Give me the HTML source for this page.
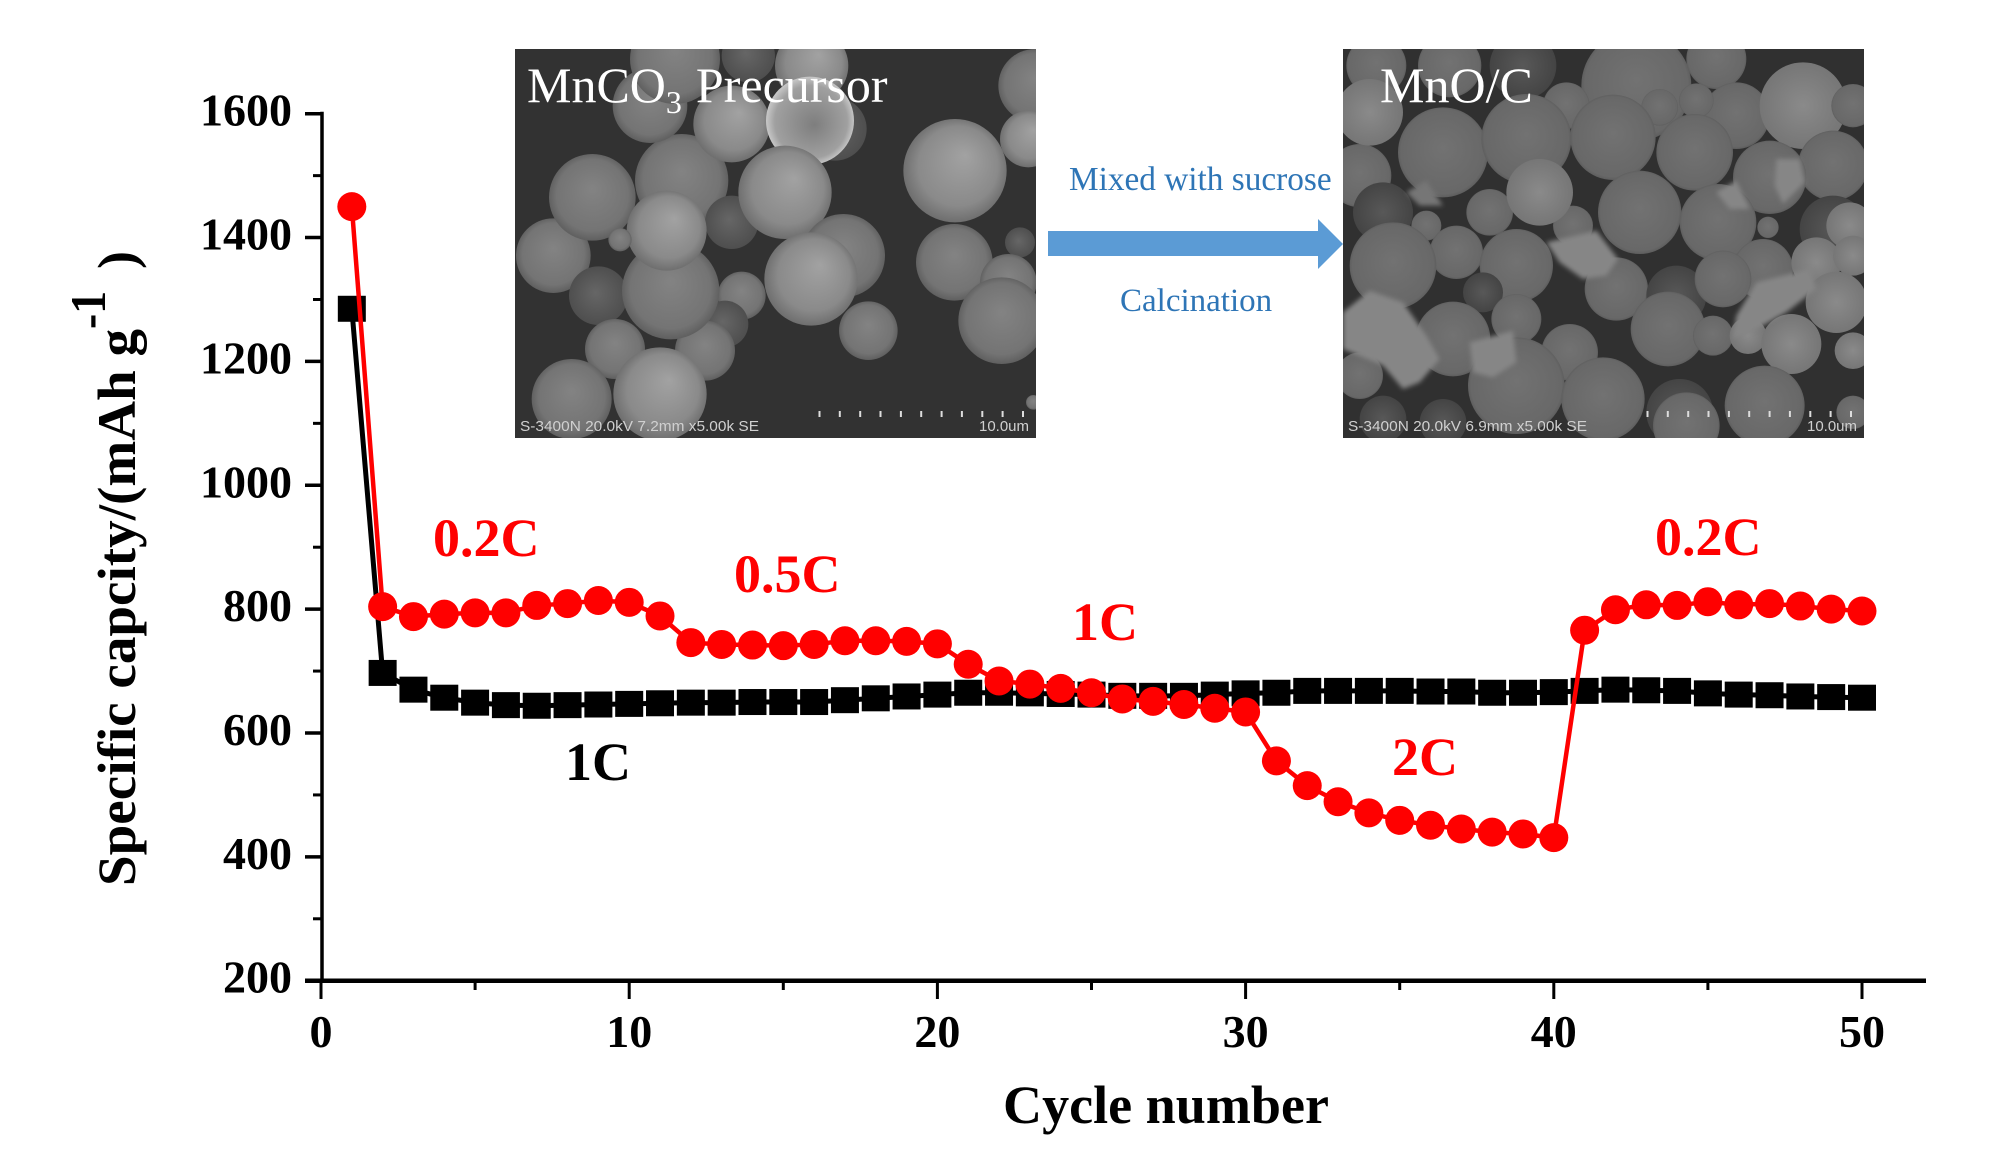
<!DOCTYPE html>
<html lang="en">
<head>
<meta charset="utf-8">
<title>Specific capacity vs cycle number</title>
<style>
html,body{margin:0;padding:0;background:#fff;width:2001px;height:1172px;overflow:hidden}
svg{display:block}
.t{font-family:"Liberation Serif",serif}
.b{font-weight:bold}
</style>
</head>
<body>
<svg id="chart" xmlns="http://www.w3.org/2000/svg" width="2001" height="1172" viewBox="0 0 2001 1172">
<defs>
<radialGradient id="ga" cx=".5" cy=".5" r=".55" fx=".6" fy=".35"><stop offset="0" stop-color="#a2a2a2"/><stop offset=".7" stop-color="#8a8a8a"/><stop offset="1" stop-color="#666"/></radialGradient>
<radialGradient id="gb" cx=".5" cy=".5" r=".55" fx=".5" fy=".4"><stop offset="0" stop-color="#838383"/><stop offset=".75" stop-color="#747474"/><stop offset="1" stop-color="#565656"/></radialGradient>
<radialGradient id="gc" cx=".5" cy=".5" r=".55" fx=".45" fy=".45"><stop offset="0" stop-color="#666"/><stop offset="1" stop-color="#4c4c4c"/></radialGradient>
<radialGradient id="gh" cx=".5" cy=".5" r=".55" fx=".55" fy=".55"><stop offset="0" stop-color="#7e7e7e"/><stop offset=".75" stop-color="#a0a0a0"/><stop offset="1" stop-color="#dcdcdc"/></radialGradient>
<radialGradient id="rm" cx=".5" cy=".5" r=".55" fx=".5" fy=".45"><stop offset="0" stop-color="#727272"/><stop offset=".85" stop-color="#686868"/><stop offset="1" stop-color="#505050"/></radialGradient>
<radialGradient id="rd" cx=".5" cy=".5" r=".55"><stop offset="0" stop-color="#585858"/><stop offset="1" stop-color="#424242"/></radialGradient>
<radialGradient id="rl" cx=".5" cy=".5" r=".55"><stop offset="0" stop-color="#8a8a8a"/><stop offset="1" stop-color="#747474"/></radialGradient>
<filter id="soft" x="-20%" y="-20%" width="140%" height="140%"><feGaussianBlur stdDeviation="7"/></filter>
</defs>

<svg x="515" y="49" width="521" height="389" viewBox="0 0 1563 1167" preserveAspectRatio="none">
<rect width="1563" height="1167" fill="#323232"/>
<g fill="url(#gb)">
<circle cx="1560" cy="110" r="110"/><circle cx="1540" cy="270" r="85" fill="url(#ga)"/><circle cx="1515" cy="580" r="45" fill="url(#gc)"/>
<circle cx="1320" cy="365" r="155" fill="url(#ga)"/><circle cx="1318" cy="640" r="115"/><circle cx="1480" cy="700" r="85"/><circle cx="1460" cy="815" r="130"/>
<circle cx="115" cy="620" r="112"/><circle cx="232" cy="445" r="130"/><circle cx="250" cy="740" r="88" fill="url(#gc)"/>
<circle cx="500" cy="395" r="140"/><circle cx="650" cy="520" r="80" fill="url(#gc)"/><circle cx="650" cy="225" r="115" fill="url(#ga)"/>
<circle cx="405" cy="170" r="112"/><circle cx="480" cy="30" r="135"/><circle cx="890" cy="50" r="110" fill="url(#ga)"/><circle cx="700" cy="20" r="80" fill="url(#gc)"/>
<circle cx="960" cy="240" r="95" fill="url(#gc)"/><circle cx="885" cy="215" r="132" fill="url(#gh)"/>
<circle cx="810" cy="430" r="140" fill="url(#ga)"/><circle cx="985" cy="620" r="125"/><circle cx="888" cy="690" r="140" fill="url(#ga)"/>
<circle cx="680" cy="740" r="72"/><circle cx="630" cy="825" r="70" fill="url(#gc)"/><circle cx="1060" cy="845" r="88"/>
<circle cx="570" cy="905" r="90"/><circle cx="300" cy="900" r="90"/><circle cx="467" cy="725" r="146"/><circle cx="455" cy="545" r="120" fill="url(#ga)"/>
<circle cx="315" cy="572" r="35"/><circle cx="170" cy="1050" r="120"/><circle cx="435" cy="1035" r="140" fill="url(#ga)"/><circle cx="1555" cy="1060" r="22"/>
</g>
</svg>

<svg x="1343" y="49" width="521" height="389" viewBox="0 0 1563 1167" preserveAspectRatio="none">
<rect width="1563" height="1167" fill="#303030"/>
<g fill="url(#rm)">
<circle cx="100" cy="50" r="90"/><circle cx="320" cy="50" r="95"/><circle cx="540" cy="50" r="100" fill="url(#rd)"/><circle cx="880" cy="110" r="165"/>
<circle cx="1120" cy="30" r="90"/><circle cx="1180" cy="200" r="100"/><circle cx="1380" cy="170" r="130" fill="url(#rl)"/><circle cx="1530" cy="170" r="65"/>
<circle cx="50" cy="380" r="95"/><circle cx="300" cy="310" r="135"/><circle cx="80" cy="190" r="100" fill="url(#rl)"/><circle cx="120" cy="490" r="90" fill="url(#rd)"/>
<circle cx="670" cy="170" r="70"/><circle cx="950" cy="175" r="55"/><circle cx="1060" cy="155" r="52"/>
<circle cx="1470" cy="350" r="105"/><circle cx="1470" cy="540" r="100" fill="url(#rd)"/><circle cx="1520" cy="530" r="70" fill="url(#rl)"/>
<circle cx="550" cy="270" r="135"/><circle cx="810" cy="265" r="128"/><circle cx="1055" cy="310" r="115"/><circle cx="1280" cy="385" r="110"/>
<circle cx="890" cy="490" r="125"/><circle cx="1125" cy="520" r="115"/><circle cx="1275" cy="535" r="32"/><circle cx="690" cy="530" r="60"/>
<circle cx="440" cy="490" r="70"/><circle cx="590" cy="430" r="100" fill="url(#rl)"/><circle cx="250" cy="530" r="45"/><circle cx="340" cy="610" r="80"/><circle cx="150" cy="650" r="130"/>
<circle cx="820" cy="720" r="95"/><circle cx="520" cy="650" r="110"/><circle cx="1000" cy="740" r="90" fill="url(#rd)"/>
<circle cx="1260" cy="660" r="90"/><circle cx="1140" cy="690" r="85"/><circle cx="975" cy="840" r="112"/><circle cx="420" cy="730" r="60" fill="url(#rd)"/>
<circle cx="1110" cy="860" r="60"/><circle cx="1420" cy="640" r="75" fill="url(#rl)"/><circle cx="1530" cy="620" r="60" fill="url(#rl)"/><circle cx="1480" cy="760" r="92" fill="url(#rl)"/>
<circle cx="1215" cy="860" r="55" fill="url(#rl)"/><circle cx="1345" cy="885" r="90" fill="url(#rl)"/><circle cx="1530" cy="905" r="55" fill="url(#rl)"/>
<circle cx="330" cy="870" r="112"/><circle cx="520" cy="810" r="75"/><circle cx="680" cy="910" r="85"/>
<circle cx="520" cy="1010" r="145"/><circle cx="780" cy="1050" r="125"/><circle cx="1010" cy="1090" r="100" fill="url(#rd)"/>
<circle cx="1265" cy="1070" r="120"/><circle cx="1030" cy="1130" r="100"/><circle cx="50" cy="980" r="70"/><circle cx="1530" cy="1090" r="50"/><circle cx="120" cy="1110" r="70" fill="url(#rd)"/><circle cx="300" cy="1120" r="70" fill="url(#rd)"/>
</g>
<g fill="#868686" filter="url(#soft)">
<polygon points="0,790 80,725 180,760 250,860 290,930 230,1000 180,1020 120,950 0,900"/>
<polygon points="380,880 510,845 520,940 450,985 390,970"/>
<polygon points="610,580 760,545 825,630 790,680 720,690 650,640"/>
<polygon points="1180,800 1240,700 1400,660 1420,720 1330,790 1260,830 1170,870"/>
<polygon points="1300,330 1370,330 1385,400 1320,465 1295,410"/>
<polygon points="1120,430 1180,395 1220,480 1160,480"/>
<polygon points="190,430 250,395 300,470 230,470" fill="#767676"/>
</g>
</svg>

<g fill="#ddd">
<rect x="818.5" y="411" width="2" height="6"/><rect x="838.8" y="411" width="2" height="6"/><rect x="859.2" y="411" width="2" height="6"/><rect x="879.5" y="411" width="2" height="6"/><rect x="899.9" y="411" width="2" height="6"/><rect x="920.2" y="411" width="2" height="6"/><rect x="940.6" y="411" width="2" height="6"/><rect x="960.9" y="411" width="2" height="6"/><rect x="981.3" y="411" width="2" height="6"/><rect x="1001.6" y="411" width="2" height="6"/><rect x="1022" y="411" width="2" height="6"/>
</g>
<g fill="#ddd">
<rect x="1646.5" y="411" width="2" height="6"/><rect x="1666.8" y="411" width="2" height="6"/><rect x="1687.2" y="411" width="2" height="6"/><rect x="1707.5" y="411" width="2" height="6"/><rect x="1727.9" y="411" width="2" height="6"/><rect x="1748.2" y="411" width="2" height="6"/><rect x="1768.6" y="411" width="2" height="6"/><rect x="1788.9" y="411" width="2" height="6"/><rect x="1809.3" y="411" width="2" height="6"/><rect x="1829.6" y="411" width="2" height="6"/><rect x="1850" y="411" width="2" height="6"/>
</g>
<text x="520" y="431" font-family="Liberation Sans, sans-serif" font-size="15" fill="#d0d0d0" textLength="239" lengthAdjust="spacingAndGlyphs">S-3400N 20.0kV 7.2mm x5.00k SE</text>
<text x="979" y="431" font-family="Liberation Sans, sans-serif" font-size="15" fill="#d0d0d0" textLength="50" lengthAdjust="spacingAndGlyphs">10.0um</text>
<text x="1348" y="431" font-family="Liberation Sans, sans-serif" font-size="15" fill="#d0d0d0" textLength="239" lengthAdjust="spacingAndGlyphs">S-3400N 20.0kV 6.9mm x5.00k SE</text>
<text x="1807" y="431" font-family="Liberation Sans, sans-serif" font-size="15" fill="#d0d0d0" textLength="50" lengthAdjust="spacingAndGlyphs">10.0um</text>

<text class="t" x="527" y="102" font-size="50" fill="#fff">MnCO<tspan font-size="32" dy="11">3</tspan><tspan dy="-11" dx="14">Precursor</tspan></text>
<text class="t" x="1380" y="102" font-size="50" fill="#fff">MnO/C</text>

<polygon fill="#5b9bd5" points="1048,231 1318,231 1318,219 1343,244 1318,269 1318,256 1048,256"/>
<text class="t" x="1069" y="190" font-size="33.3" fill="#2e75b6">Mixed with sucrose</text>
<text class="t" x="1120" y="311" font-size="33" fill="#2e75b6">Calcination</text>

<g id="axes"></g>
<g id="series"></g>

<text class="t b" transform="translate(135,886) rotate(-90)" font-size="54" textLength="557" lengthAdjust="spacingAndGlyphs">Specific capcity/(mAh g</text>
<text class="t b" transform="translate(105,329) rotate(-90)" font-size="50" textLength="38" lengthAdjust="spacingAndGlyphs">-1</text>
<text class="t b" transform="translate(135,269) rotate(-90)" font-size="54">)</text>
<text class="t b" x="1003" y="1123" font-size="54" textLength="326" lengthAdjust="spacingAndGlyphs">Cycle number</text>

<text class="t b" x="433" y="556" font-size="54" fill="#f00">0.2C</text>
<text class="t b" x="734" y="592" font-size="54" fill="#f00">0.5C</text>
<text class="t b" x="1072" y="640" font-size="54" fill="#f00">1C</text>
<text class="t b" x="1392" y="775" font-size="54" fill="#f00">2C</text>
<text class="t b" x="1655" y="555" font-size="54" fill="#f00">0.2C</text>
<text class="t b" x="565" y="780" font-size="54" fill="#000">1C</text>
</svg>

<script>
const cycles = [1,2,3,4,5,6,7,8,9,10,11,12,13,14,15,16,17,18,19,20,21,22,23,24,25,26,27,28,29,30,31,32,33,34,35,36,37,38,39,40,41,42,43,44,45,46,47,48,49,50];
const constantRate = [1285,697,670,657,649,645,644,645,646,647,648,649,649,650,650,650,653,656,659,662,665,665,664,663,662,660,660,660,662,664,665,668,668,668,668,667,667,665,665,666,668,670,669,668,664,662,661,659,658,657];
const variableRate = [1450,804,788,792,794,794,806,809,814,811,789,746,743,742,741,743,749,749,748,744,711,684,679,672,665,655,651,646,640,634,555,515,489,471,459,451,445,440,437,431,766,799,807,806,812,807,809,805,800,797];
const yTickLabels = [200,400,600,800,1000,1200,1400,1600];
const xTickLabels = [0,10,20,30,40,50];
const yMinorTicks = [300,500,700,900,1100,1300,1500];
const xMinorTicks = [5,15,25,35,45];

const NS = 'http://www.w3.org/2000/svg';
const xScale = function (v) { return 321 + v * 30.82; };
const yScale = function (v) { return 113.7 + (1600 - v) * 0.6193; };
const axes = document.getElementById('axes');
const seriesLayer = document.getElementById('series');

function make(tag, parent, props) {
  const el = document.createElementNS(NS, tag);
  Object.keys(props).forEach(function (k) { el.setAttribute(k, props[k]); });
  parent.appendChild(el);
  return el;
}

const yLine = make('line', axes, {x1: 322, y1: yScale(1600) - 2, x2: 322, y2: yScale(200), stroke: '#000', 'stroke-width': 3.5});


const xLine = make('line', axes, {x1: 305, y1: yScale(200), x2: 1926, y2: yScale(200), stroke: '#000', 'stroke-width': 4.5});



yTickLabels.forEach(function (v) {
  const tick = make('line', axes, {x1: 305, y1: yScale(v), x2: 322, y2: yScale(v), stroke: '#000', 'stroke-width': 3.5});
  
  
  const label = make('text', axes, {x: 292, y: yScale(v) + 12, 'text-anchor': 'end', 'font-size': 46, 'font-weight': 'bold', 'font-family': '"Liberation Serif", serif'});
  
  
  label.textContent = v;
});
yMinorTicks.forEach(function (v) {
  const tick = make('line', axes, {x1: 313, y1: yScale(v), x2: 322, y2: yScale(v), stroke: '#000', 'stroke-width': 3});
  
  
});
xTickLabels.forEach(function (v) {
  const tick = make('line', axes, {x1: xScale(v), y1: yScale(200), x2: xScale(v), y2: 999, stroke: '#000', 'stroke-width': 3});
  
  
  const label = make('text', axes, {x: xScale(v), y: 1047, 'text-anchor': 'middle', 'font-size': 46, 'font-weight': 'bold', 'font-family': '"Liberation Serif", serif'});
  
  
  label.textContent = v;
});
xMinorTicks.forEach(function (v) {
  const tick = make('line', axes, {x1: xScale(v), y1: yScale(200), x2: xScale(v), y2: 990, stroke: '#000', 'stroke-width': 3});
  
  
});

function toPoints(values) {
  return values.map(function (v, i) { return xScale(cycles[i]) + ',' + yScale(v); }).join(' ');
}

const blackLine = make('polyline', seriesLayer, {points: toPoints(constantRate), fill: 'none', stroke: '#000', 'stroke-width': 5});


constantRate.forEach(function (v, i) {
  const m = make('rect', seriesLayer, {x: xScale(cycles[i]) - 14, y: yScale(v) - 13, width: 28, height: 26, fill: '#000'});
  
  
});
const redLine = make('polyline', seriesLayer, {points: toPoints(variableRate), fill: 'none', stroke: '#f00', 'stroke-width': 4.5});


variableRate.forEach(function (v, i) {
  const m = make('circle', seriesLayer, {cx: xScale(cycles[i]), cy: yScale(v), r: 14.5, fill: '#f00'});
  
  
});
</script>
</body>
</html>
